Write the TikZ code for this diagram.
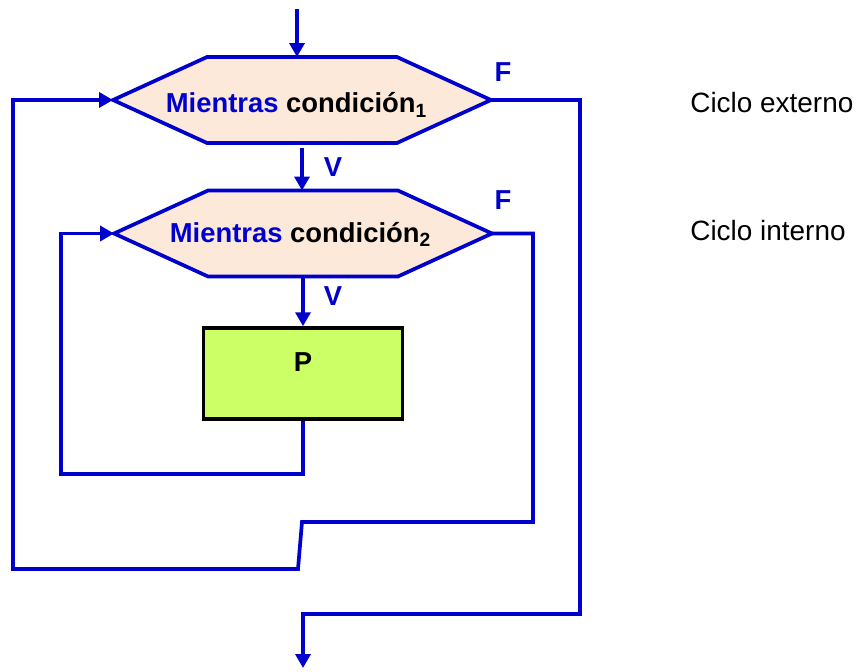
\documentclass[tikz,border=0pt]{standalone}
\usepackage{fontspec}
\setmainfont{Liberation Sans}
\usetikzlibrary{arrows.meta,calc}
\definecolor{lineblue}{HTML}{0000CC}
\definecolor{hexfill}{HTML}{FCE9DA}
\definecolor{procfill}{HTML}{CCFF66}
\begin{document}
\begin{tikzpicture}[x=0.02cm, y=-0.02cm,
        every node/.style={font=\fontsize{15.6}{18}\selectfont\bfseries, inner sep=0pt},
        hexbox/.style={minimum width=7.56cm, minimum height=1.72cm, outer sep=0pt},
        hexline/.style={draw=lineblue, line width=2.1pt, fill=hexfill},
        procbox/.style={rectangle, draw=black, line width=2pt, fill=procfill, minimum width=3.98cm, minimum height=1.82cm, text height=0.38cm, text depth=0.48cm},
        flow/.style={draw=lineblue, line width=2.1pt},
        flowarrow/.style={flow, -{Triangle[length=0.28cm, width=0.3cm]}},
        answer/.style={text=lineblue},
        note/.style={font=\fontsize{15.9}{18}\selectfont, anchor=base west}
    ]
        \useasboundingbox (0,0) rectangle (858,672);

        % decision hexagons
        \node[hexbox] (h1) at (302,100) {};
        \node[hexbox] (h2) at (303,233.5) {};
        \foreach \h in {h1,h2}
            \draw[hexline] (\h.west) -- ($(\h.north west)+(94,0)$) -- ($(\h.north east)+(-94,0)$) -- (\h.east)
                -- ($(\h.south east)+(-94,0)$) -- ($(\h.south west)+(94,0)$) -- cycle;
        \node[anchor=base] (t1) at (296.5,113) {\textcolor{lineblue}{Mientras} condición\textsubscript{1}};
        \node[anchor=base] (t2) at (300.5,242) {\textcolor{lineblue}{Mientras} condición\textsubscript{2}};

        % loop body
        \node[procbox] (P) at (303,373.5) {P};

        % answers
        \node[answer] (f1) at (503,72) {F};
        \node[answer] (v1) at (333,167) {V};
        \node[answer] (f2) at (503,200) {F};
        \node[answer] (v2) at (333,296) {V};

        \node[note] (outer) at (690,113) {Ciclo externo};
        \node[note] (inner) at (690,240) {Ciclo interno};

        % flow lines
        \coordinate (entry) at (297,9);
        \coordinate (exit) at (303,668);
        \draw[flowarrow] (entry) -- (entry |- h1.north);
        \draw[flowarrow, shorten <=0.1cm] (h1.south) -- (h1.south |- h2.north);
        \draw[flowarrow] (h2.south) -- (h2.south |- P.north);
        \draw[flowarrow] (P.south) |- (61,474) |- (h2.west);
        \draw[flowarrow] (h2.east) -| (533,522) -- (302,522) -- (298,569) -- (13,569) |- (h1.west);
        \draw[flowarrow] (h1.east) -| (580,614) -| (exit);
    \end{tikzpicture}
\end{document}
